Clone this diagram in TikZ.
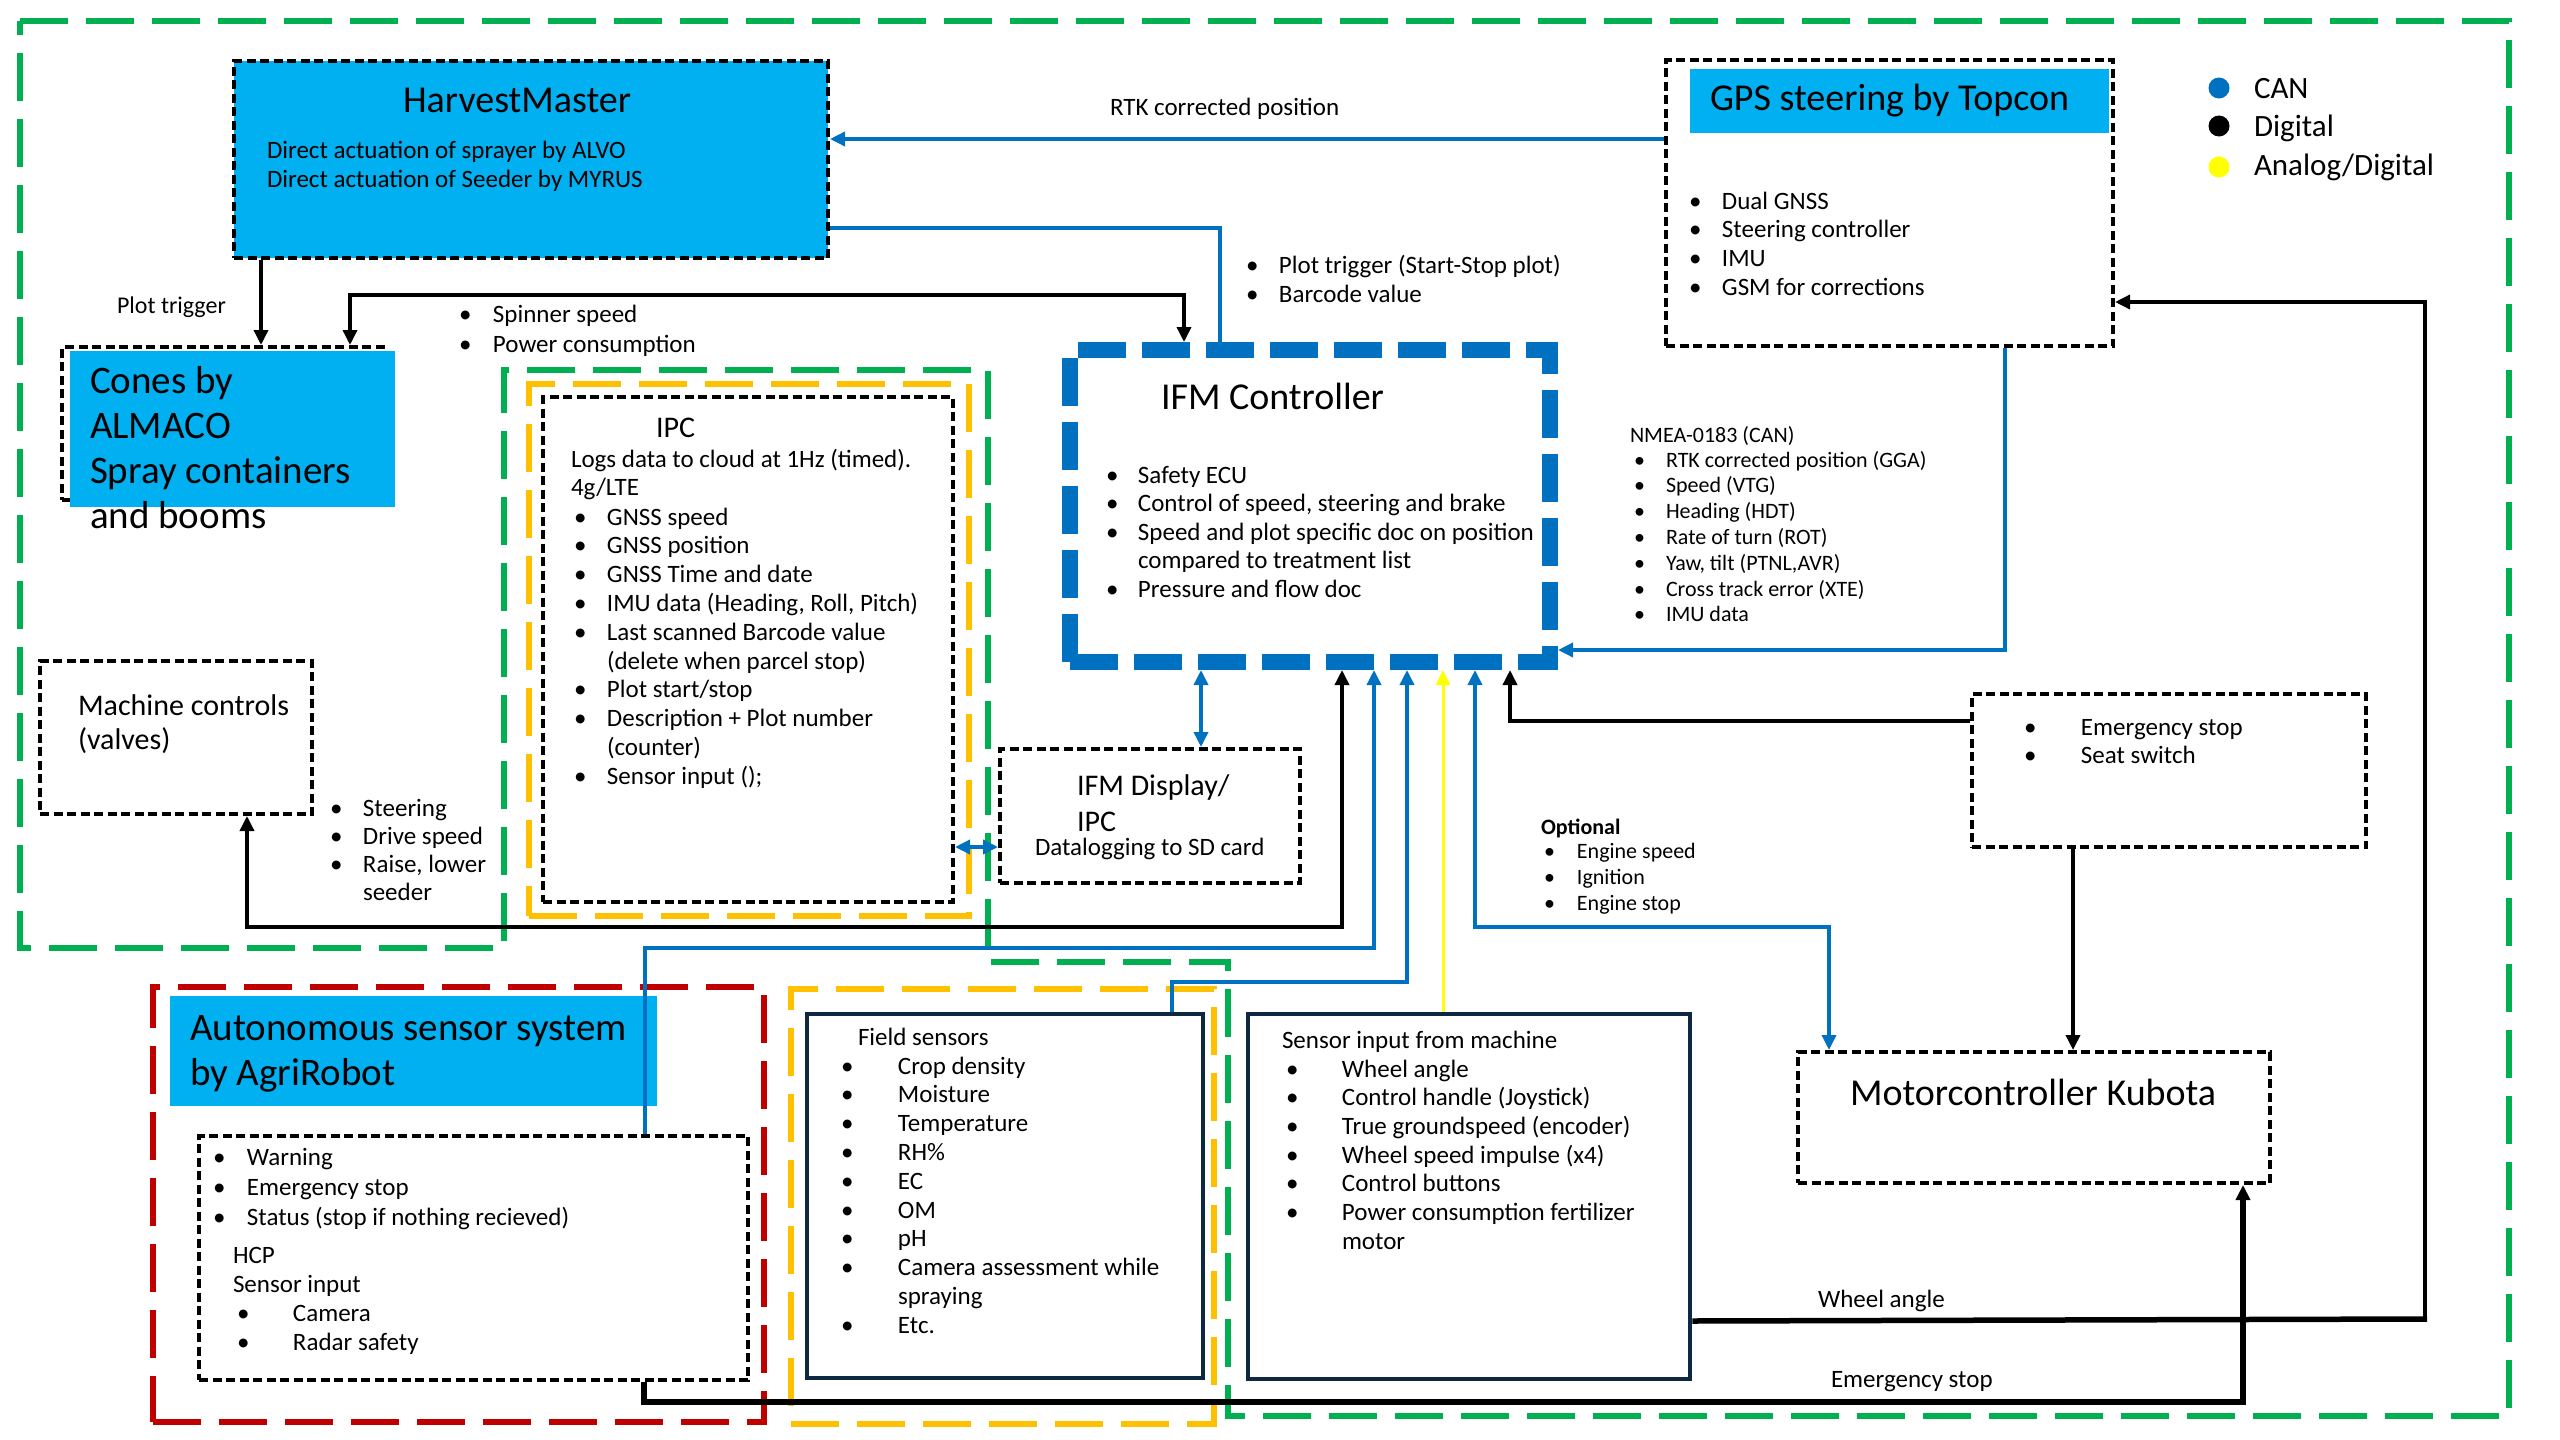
\documentclass[tikz,border=0pt]{standalone}
\usepackage{fontspec}
\setmainfont{Carlito}
\usetikzlibrary{arrows.meta,fit}
\definecolor{cgreen}{HTML}{00B050}
\definecolor{cyel}{HTML}{FFC000}
\definecolor{cred}{HTML}{C00000}
\definecolor{cfill}{HTML}{00B0F0}
\definecolor{cblue}{HTML}{0070C0}
\definecolor{cnavy}{HTML}{0E2841}
\definecolor{cyline}{HTML}{FFFF00}
\newcommand\fs[2]{\fontsize{#1}{#2}\selectfont}
\newcommand\BL[2]{\begin{tabular}[t]{@{}p{#1}@{}l@{}}#2\end{tabular}}
\newcommand\TL[1]{\begin{tabular}[t]{@{}l@{}}#1\end{tabular}}
\begin{document}
\begin{tikzpicture}[x=1pt,y=-1pt,
  frame/.style={line width=5.5pt, dash pattern=on 48pt off 18pt},
  framebox/.style={frame, inner sep=0pt, outer sep=0pt},
  dbox/.style={draw=black, line width=4pt, dash pattern=on 9pt off 4.5pt, inner sep=0pt},
  sbox/.style={draw=cnavy, line width=4.5pt, inner sep=0pt},
  fillbox/.style={fill=cfill, draw=none, inner sep=0pt},
  txt/.style={inner sep=0pt, outer sep=0pt, anchor=base west},
  blk/.style={draw=black, line width=3.5pt},
  blkthick/.style={draw=black, line width=5.5pt},
  blu/.style={draw=cblue, line width=3.5pt},
  ylw/.style={draw=cyline, line width=3pt},
  >={Triangle[length=15pt,width=14pt]},
  dot/.style={circle, inner sep=0pt, minimum size=21pt}]
\useasboundingbox (0,0) rectangle (2560,1440);
\fill[white] (0,0) rectangle (2560,1440);

% ---------- frames ----------
\draw[cgreen, frame] (20,21) -- (2509,21) -- (2509,1416) -- (1228,1416) -- (1228,962)
   -- (988,962) -- (988,370) -- (504,370) -- (504,948) -- (20,948) -- cycle;
\node[draw=cred, framebox, fit={(153,987) (764,1422)}] (redfr) {};
\node[draw=cyel, framebox, fit={(529,384) (969,916)}] (yelipc) {};
\node[draw=cyel, framebox, fit={(791,989) (1214,1424)}] (yelfield) {};

% ---------- boxes ----------
\node[dbox, fill=cfill, fit={(234,61) (828,258)}] (hm) {};
\node[dbox, fit={(62,347) (383,500)}] (cones) {};
\node[fillbox, fit={(70,351) (395,507)}] (conesf) {};
\node[dbox, fit={(1666,60) (2113,346)}] (gps) {};
\node[fillbox, fit={(1690,69) (2109,133)}] (gpsf) {};
\node[dbox, fit={(40,661) (312,814)}] (mach) {};
\node[dbox, fit={(543,397) (953,902)}] (ipc) {};
\node[dbox, fit={(1000,749) (1300,883)}] (disp) {};
\node[dbox, fit={(1972,694) (2366,847)}] (emerg) {};
\node[dbox, fit={(1798,1052) (2270,1183)}] (motor) {};
\node[fillbox, fit={(170,996) (657,1106)}] (agrif) {};
\node[dbox, fit={(199,1136) (748,1380)}] (agri) {};
\node[sbox, fit={(807,1014) (1203,1378)}] (field) {};
\node[sbox, fit={(1248,1014) (1690,1379)}] (sensor) {};
\node[draw=cblue, line width=16pt, dash pattern=on 48pt off 16pt, inner sep=0pt,
      fit={(1070,350) (1550,662)}] (ifm) {};

% ---------- legend ----------
\node[dot, fill=cblue] (dcan) at (2219,88) {};
\node[dot, fill=black] (ddig) at (2219,126) {};
\node[dot, fill=cyline] (dana) at (2219,167) {};

% ---------- connectors ----------
\draw[blk, ->] (hm.south -| 261,0) -- (cones.north -| 261,0);
\draw[blk, <->] (cones.north -| 350,0) -- (350,295) -- (1184,295) -- (ifm.north -| 1184,0);
\draw[blu, ->] (gps.west |- 0,139) -- (hm.east |- 0,139);
\draw[blu] (hm.east |- 0,228) -- (1220,228) -- (ifm.north -| 1220,0);
\draw[blu, ->] (gps.south -| 2005,0) -- (2005,650) -- (ifm.east |- 0,650);
\draw[blk, ->] (2425,1320) -- (2425,302) -- (gps.east |- 0,302);
\draw[blkthick] (sensor.east |- 0,1321) -- (2427,1319);
\draw[blkthick, ->] (agri.south -| 644,0) -- (644,1402) -- (2243,1402) -- (motor.south -| 2243,0);
\draw[blk, ->] (emerg.west |- 0,721) -- (1510,721) -- (ifm.south -| 1510,0);
\draw[blk, ->] (emerg.south -| 2073,0) -- (motor.north -| 2073,0);
\draw[blu, <->] (ifm.south -| 1475,0) -- (1475,927) -- (1829,927) -- (motor.north -| 1829,0);
\draw[blu, <->] (disp.north -| 1201,0) -- (ifm.south -| 1201,0);
\draw[blu, <->] (ipc.east |- 0,847) -- (disp.west |- 0,847);
\draw[blk, <->] (mach.south -| 247,0) -- (247,927) -- (1342,927) -- (ifm.south -| 1342,0);
\draw[blu, ->] (agri.north -| 645,0) -- (645,948) -- (1374,948) -- (ifm.south -| 1374,0);
\draw[blu, ->] (field.north -| 1172,0) -- (1172,982) -- (1407,982) -- (ifm.south -| 1407,0);
\draw[ylw, ->] (sensor.north -| 1443,0) -- (ifm.south -| 1443,0);

% ---------- texts ----------
\node[txt, anchor=base] (hmt) at (517,112) {\fs{38}{45}HarvestMaster};
\node[txt] (hmb) at (267,158) {\fs{25}{29}\TL{Direct actuation of sprayer by ALVO\\Direct actuation of Seeder by MYRUS}};
\node[txt] (conest) at (90,393) {\fs{39}{45.3}\TL{Cones by\\ALMACO\\Spray containers\\and booms}};
\node[txt] (ptl) at (117,313) {\fs{24}{29}Plot trigger};
\node[txt] (spin) at (459,322) {\fs{25}{30}\BL{34pt}{\textbullet & Spinner speed\\ \textbullet & Power consumption}};
\node[txt] (rtk) at (1110,115) {\fs{25}{29}RTK corrected position};
\node[txt] (ptb) at (1246,273) {\fs{25}{29}\BL{33pt}{\textbullet & Plot trigger (Start-Stop plot)\\ \textbullet & Barcode value}};
\node[txt] (gpst) at (1710,110) {\fs{38}{45}GPS steering by Topcon};
\node[txt] (gpsl) at (1689,209) {\fs{25}{28.7}\BL{33pt}{\textbullet & Dual GNSS\\ \textbullet & Steering controller\\ \textbullet & IMU\\ \textbullet & GSM for corrections}};
\node[txt] (lcan) at (2254,98) {\fs{31}{36}CAN};
\node[txt] (ldig) at (2254,136) {\fs{31}{36}Digital};
\node[txt] (lana) at (2254,175) {\fs{31}{36}Analog/Digital};

\node[txt] (ipct) at (656,437) {\fs{30}{36}IPC};
\node[txt] (ipcb) at (571,467) {\fs{25}{28}\TL{Logs data to cloud at 1Hz (timed).\\4g/LTE}};
\node[txt] (ipcl) at (574,525) {\fs{25}{28.8}\BL{33pt}{\textbullet & GNSS speed\\ \textbullet & GNSS position\\ \textbullet & GNSS Time and date\\ \textbullet & IMU data (Heading, Roll, Pitch)\\ \textbullet & Last scanned Barcode value\\ & (delete when parcel stop)\\ \textbullet & Plot start/stop\\ \textbullet & Description + Plot number\\ & (counter)\\ \textbullet & Sensor input ();}};

\node[txt] (ifmt) at (1161,409) {\fs{38}{45}IFM Controller};
\node[txt] (ifml) at (1106,483) {\fs{25}{28.5}\BL{32pt}{\textbullet & Safety ECU\\ \textbullet & Control of speed, steering and brake\\ \textbullet & Speed and plot specific doc on position\\ & compared to treatment list\\ \textbullet & Pressure and flow doc}};

\node[txt] (nmeat) at (1630,442) {\fs{22}{26}NMEA-0183 (CAN)};
\node[txt] (nmeal) at (1634,467) {\fs{22}{25.8}\BL{32pt}{\textbullet & RTK corrected position (GGA)\\ \textbullet & Speed (VTG)\\ \textbullet & Heading (HDT)\\ \textbullet & Rate of turn (ROT)\\ \textbullet & Yaw, tilt (PTNL,AVR)\\ \textbullet & Cross track error (XTE)\\ \textbullet & IMU data}};

\node[txt] (macht) at (78,715) {\fs{30}{34}\TL{Machine controls\\(valves)}};
\node[txt] (steer) at (330,816) {\fs{25}{28}\BL{33pt}{\textbullet & Steering\\ \textbullet & Drive speed\\ \textbullet & Raise, lower\\ & seeder}};

\node[txt] (dispt) at (1077,795) {\fs{30}{36}\TL{IFM Display/\\IPC}};
\node[txt] (dispb) at (1035,855) {\fs{25}{29}Datalogging to SD card};

\node[txt] (optt) at (1541,834) {\fs{22}{26}\bfseries Optional};
\node[txt] (optl) at (1544,858) {\fs{22}{26}\BL{33pt}{\textbullet & Engine speed\\ \textbullet & Ignition\\ \textbullet & Engine stop}};

\node[txt] (emergl) at (2024,735) {\fs{25}{28}\BL{57pt}{\textbullet & Emergency stop\\ \textbullet & Seat switch}};
\node[txt] (motort) at (1850,1105) {\fs{38}{45}Motorcontroller Kubota};

\node[txt] (agrit) at (190,1040) {\fs{39}{45}\TL{Autonomous sensor system\\by AgriRobot}};
\node[txt] (agril) at (213,1165) {\fs{25}{30}\BL{34pt}{\textbullet & Warning\\ \textbullet & Emergency stop\\ \textbullet & Status (stop if nothing recieved)}};
\node[txt] (hcp) at (233,1263) {\fs{25}{29}\TL{HCP\\Sensor input}};
\node[txt] (agril2) at (237,1321) {\fs{25}{29}\BL{56pt}{\textbullet & Camera\\ \textbullet & Radar safety}};

\node[txt] (fieldt) at (858,1045) {\fs{25}{29}Field sensors};
\node[txt] (fieldl) at (841,1074) {\fs{25}{28.8}\BL{57pt}{\textbullet & Crop density\\ \textbullet & Moisture\\ \textbullet & Temperature\\ \textbullet & RH\%\\ \textbullet & EC\\ \textbullet & OM\\ \textbullet & pH\\ \textbullet & Camera assessment while\\ & spraying\\ \textbullet & Etc.}};

\node[txt] (sensort) at (1282,1048) {\fs{25}{29}Sensor input from machine};
\node[txt] (sensorl) at (1286,1077) {\fs{25}{28.7}\BL{56pt}{\textbullet & Wheel angle\\ \textbullet & Control handle (Joystick)\\ \textbullet & True groundspeed (encoder)\\ \textbullet & Wheel speed impulse (x4)\\ \textbullet & Control buttons\\ \textbullet & Power consumption fertilizer\\ & motor}};

\node[txt] (wal) at (1818,1307) {\fs{25}{29}Wheel angle};
\node[txt] (esl) at (1831,1387) {\fs{25}{29}Emergency stop};
\end{tikzpicture}
\end{document}
